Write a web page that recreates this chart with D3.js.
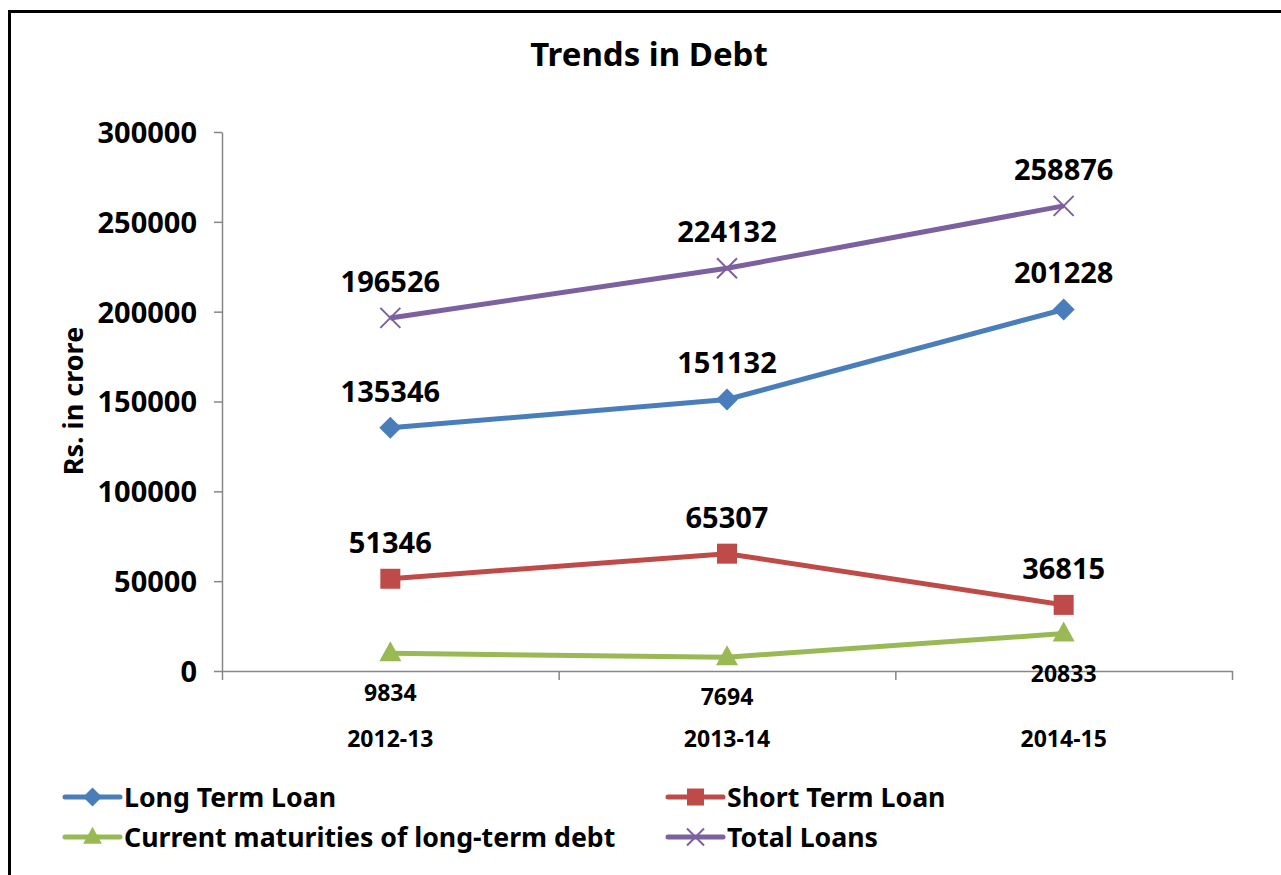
<!DOCTYPE html>
<html>
<meta charset="utf-8">
<script src="https://d3js.org/d3.v7.min.js"></script>
<style>
  body { margin: 0; background: #fff; }
  text { font-family: "Noto Sans", "Open Sans", sans-serif; font-weight: bold; fill: #000; }
  .axis path, .axis line { stroke: #868686; stroke-width: 1.5px; }
</style>
<body>
<div id="vis"></div>
<script>
  // data
  const categories = ["2012-13", "2013-14", "2014-15"];
  const longTermLoan = [135346, 151132, 201228];
  const shortTermLoan = [51346, 65307, 36815];
  const currentMaturities = [9834, 7694, 20833];
  const totalLoans = [196526, 224132, 258876];
  const yTickValues = [0, 50000, 100000, 150000, 200000, 250000, 300000];
  const seriesNames = ["Long Term Loan", "Short Term Loan", "Current maturities of long-term debt", "Total Loans"];

  const series = [
    {name: seriesNames[0], values: longTermLoan, color: "#4a7ebb", marker: "diamond", labelPos: "above"},
    {name: seriesNames[1], values: shortTermLoan, color: "#be4b48", marker: "square", labelPos: "above"},
    {name: seriesNames[2], values: currentMaturities, color: "#98b954", marker: "triangle", labelPos: "below"},
    {name: seriesNames[3], values: totalLoans, color: "#7d60a0", marker: "cross", labelPos: "above"}
  ];

  const W = 1281, H = 875;
  const svg = d3.select("#vis").append("svg")
    .attr("width", W).attr("height", H);

  // outer frame (runs off the right and bottom edge)
  svg.append("rect")
    .attr("x", 9.5).attr("y", 11.5)
    .attr("width", W + 20).attr("height", H + 20)
    .attr("fill", "none").attr("stroke", "#000").attr("stroke-width", 3);

  // title
  svg.append("text")
    .attr("x", 649).attr("y", 66)
    .attr("text-anchor", "middle")
    .style("font-size", "33px")
    .text("Trends in Debt");

  const x = d3.scaleBand().domain(categories).range([222, 1232]).padding(0);
  const y = d3.scaleLinear().domain([0, 300000]).range([671, 132]);
  const cx = d => x(d) + x.bandwidth() / 2;

  // y axis
  const yAxis = svg.append("g")
    .attr("class", "axis")
    .attr("transform", "translate(222,0)")
    .call(d3.axisLeft(y).tickValues(yTickValues).tickSize(8).tickPadding(17).tickSizeOuter(0).tickFormat(d3.format("d")));
  yAxis.selectAll("text")
    .style("font-size", "29px")
    .attr("dy", "0.36em");

  // x axis with ticks on category boundaries
  const edges = d3.scaleLinear().domain([0, categories.length]).range([222, 1232]);
  svg.append("g")
    .attr("class", "axis")
    .attr("transform", "translate(0,671)")
    .call(d3.axisBottom(edges).tickValues(d3.range(categories.length + 1)).tickSize(9).tickSizeOuter(0).tickFormat(""));

  // category labels
  svg.append("g").selectAll("text")
    .data(categories)
    .join("text")
      .attr("x", d => cx(d))
      .attr("y", 747)
      .attr("text-anchor", "middle")
      .style("font-size", "23px")
      .text(d => d);

  // y axis title
  svg.append("text")
    .attr("transform", "translate(83,401) rotate(-90)")
    .attr("text-anchor", "middle")
    .style("font-size", "27px")
    .text("Rs. in crore");

  const markerPath = function(type, s) {
    const h = s / 2;
    if (type === "diamond") return `M0,${-h - 1}L${h + 1},0L0,${h + 1}L${-h - 1},0Z`;
    if (type === "square") return `M${-h},${-h}H${h}V${h}H${-h}Z`;
    if (type === "triangle") return `M0,${-s * 0.6}L${s * 0.55},${s * 0.4}L${-s * 0.55},${s * 0.4}Z`;
    return `M${-h},${-h}L${h},${h}M${-h},${h}L${h},${-h}`;
  };

  const line = d3.line()
    .x((d, i) => cx(categories[i]))
    .y(d => y(d));

  series.forEach(function(s) {
    const g = svg.append("g");
    g.append("path")
      .attr("d", line(s.values))
      .attr("fill", "none")
      .attr("stroke", s.color)
      .attr("stroke-width", 5)
      .attr("stroke-linejoin", "round");

    g.selectAll(".mk")
      .data(s.values)
      .join("path")
        .attr("class", "mk")
        .attr("transform", (d, i) => `translate(${cx(categories[i])},${y(d)})`)
        .attr("d", markerPath(s.marker, 20))
        .attr("fill", s.marker === "cross" ? "none" : s.color)
        .attr("stroke", s.marker === "cross" ? s.color : "none")
        .attr("stroke-width", 2);

    g.selectAll(".lbl")
      .data(s.values)
      .join("text")
        .attr("class", "lbl")
        .attr("x", (d, i) => cx(categories[i]))
        .attr("y", d => s.labelPos === "above" ? y(d) - 26 : y(d) + 48)
        .attr("text-anchor", "middle")
        .style("font-size", s.labelPos === "above" ? "29px" : "23px")
        .text(d => d);
  });

  // legend
  const legendPos = [[65, 797], [668, 797], [65, 837], [668, 837]];
  series.forEach(function(s, i) {
    const [lx, ly] = legendPos[i];
    const g = svg.append("g").attr("transform", `translate(${lx},${ly})`);
    g.append("line")
      .attr("x1", 0).attr("x2", 55)
      .attr("stroke", s.color).attr("stroke-width", 5).attr("stroke-linecap", "round");
    g.append("path")
      .attr("transform", "translate(27.5,0)")
      .attr("d", markerPath(s.marker, 17))
      .attr("fill", s.marker === "cross" ? "none" : s.color)
      .attr("stroke", s.marker === "cross" ? s.color : "none")
      .attr("stroke-width", 2);
    g.append("text")
      .attr("x", 59).attr("y", 0)
      .attr("dy", "0.36em")
      .style("font-size", "26.7px")
      .text(s.name);
  });
</script>
</body>
</html>
